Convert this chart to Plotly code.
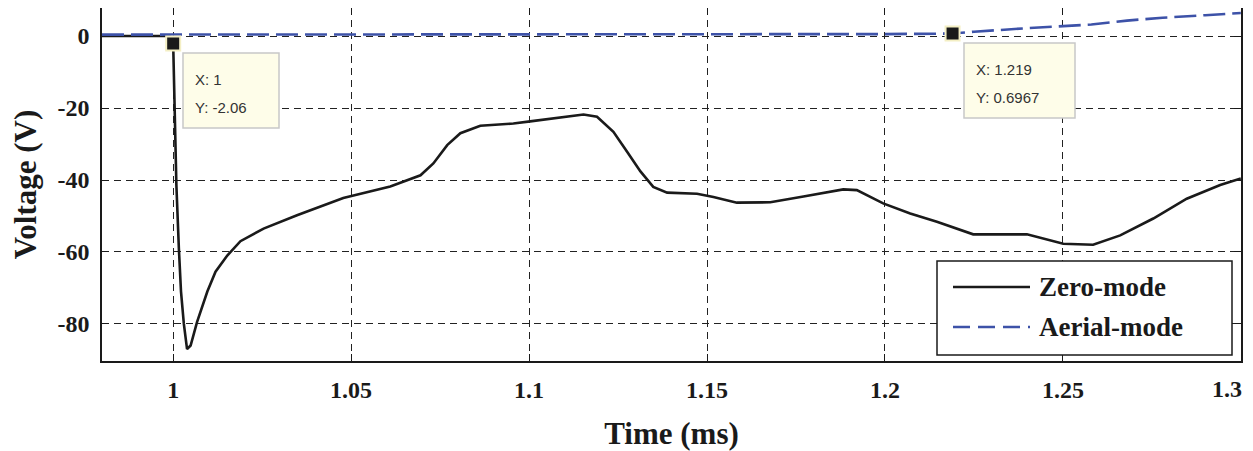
import plotly.graph_objects as go

# ---------------- data ----------------
zero_t = [0.98, 0.999, 1.0, 1.0002, 1.0009, 1.0016, 1.0022, 1.0030, 1.0039, 1.0049,
          1.0067, 1.0096, 1.0119, 1.0152, 1.0189, 1.0254, 1.0348, 1.0478, 1.0610,
          1.0695, 1.0731, 1.0770, 1.0807, 1.0863, 1.0956, 1.1003, 1.1068, 1.1153,
          1.1191, 1.1237, 1.1275, 1.1313, 1.1349, 1.1388, 1.1472, 1.1518, 1.1584,
          1.1678, 1.1771, 1.1883, 1.1921, 1.1995, 1.2071, 1.2146, 1.2248, 1.2399,
          1.2501, 1.2585, 1.2661, 1.2754, 1.2848, 1.2942, 1.3]
zero_v = [0, 0, -2.06, -11.7, -41.4, -59, -71, -80, -87, -86,
          -79.5, -71, -65.5, -61, -57, -53.5, -49.8, -45, -41.8,
          -38.7, -35.4, -30.3, -27, -24.9, -24.3, -23.7, -22.9, -21.8,
          -22.4, -26.6, -32.1, -37.6, -41.9, -43.5, -43.8, -44.7, -46.3,
          -46.2, -44.6, -42.6, -42.8, -46.5, -49.3, -51.6, -55.1, -55.1,
          -57.7, -58, -55.4, -50.7, -45.2, -41.4, -39.6]

aerial_t = [0.98, 1.0, 1.1, 1.2, 1.219, 1.225, 1.24, 1.258, 1.268, 1.278, 1.29, 1.3]
aerial_v = [0.4, 0.4, 0.45, 0.55, 0.6967, 1.2, 2.2, 3.2, 4.3, 5.1, 5.8, 6.4]

tip_x = [1.0, 1.219]
tip_y = [-2.06, 0.6967]
tip_text = [("X: 1", "Y: -2.06"), ("X: 1.219", "Y: 0.6967")]

x_ticks = [1, 1.05, 1.1, 1.15, 1.2, 1.25, 1.3]
x_ticktext = ["1", "1.05", "1.1", "1.15", "1.2", "1.25", "1.3"]
y_ticks = [0, -20, -40, -60, -80]
y_ticktext = ["0", "-20", "-40", "-60", "-80"]

series_names = ["Zero-mode", "Aerial-mode"]

# ---------------- layout constants ----------------
OFF = 8                      # page offset of the figure (browser body margin)
PAGE_W, PAGE_H = 1253, 451
W, H = PAGE_W - OFF, PAGE_H - OFF
PL, PR, PT, PB = 102, 1241, 8, 361   # plot area in page pixels
ML, MR, MT, MB = PL - OFF, W - (PR - OFF), PT - OFF, H - (PB - OFF)
XR = [0.98, 1.30005]
YR = [-90.3, 7.8]
SERIF = "Liberation Serif, Times New Roman, serif"
SANS = "Liberation Sans, Arial, sans-serif"
BLACK = "#1a1a1a"
BLUE = "#3d52a8"
TICK_FS = 24


def px2paper_x(px):
    return (px - PL) / (PR - PL)


def px2paper_y(py):
    return (PB - py) / (PB - PT)


def px2dx(px):
    return XR[0] + (px - PL) / (PR - PL) * (XR[1] - XR[0])


def px2dy(py):
    return YR[1] - (py - PT) / (PB - PT) * (YR[1] - YR[0])


fig = go.Figure()
fig.add_trace(go.Scatter(x=zero_t, y=zero_v, mode="lines", name=series_names[0],
                         line=dict(color=BLACK, width=2.6), showlegend=False))
fig.add_trace(go.Scatter(x=aerial_t, y=aerial_v, mode="lines", name=series_names[1],
                         line=dict(color=BLUE, width=2.6, dash="22px,7px"), showlegend=False))
fig.add_trace(go.Scatter(x=tip_x, y=tip_y, mode="markers", showlegend=False,
                         marker=dict(symbol="square", size=14, color=BLACK,
                                     line=dict(color="#f4efc4", width=2))))

shapes = []
annotations = []

# data tip boxes (page px)
tip_boxes = [  # (left, top, right, bottom)
    (183, 53, 279, 128),
    (964, 43, 1075, 118),
]
for (x0, y0, x1, y1), (l1, l2) in zip(tip_boxes, tip_text):
    shapes.append(dict(type="rect", xref="x", yref="y",
                       x0=px2dx(x0), x1=px2dx(x1), y0=px2dy(y1), y1=px2dy(y0),
                       fillcolor="#fefde9", line=dict(color="#c8c8c8", width=1.5),
                       layer="above"))
    annotations.append(dict(xref="x", yref="y", x=px2dx(x0 + 10), y=px2dy(y0 + 26),
                            text=l1, showarrow=False, xanchor="left", yanchor="middle",
                            font=dict(family=SANS, size=15, color="#333333")))
    annotations.append(dict(xref="x", yref="y", x=px2dx(x0 + 10), y=px2dy(y0 + 54),
                            text=l2, showarrow=False, xanchor="left", yanchor="middle",
                            font=dict(family=SANS, size=15, color="#333333")))

# legend (box, sample lines, labels)
shapes.append(dict(type="rect", xref="paper", yref="paper",
                   x0=px2paper_x(937), x1=px2paper_x(1232),
                   y0=px2paper_y(355), y1=px2paper_y(261),
                   fillcolor="white", line=dict(color=BLACK, width=1.5), layer="above"))
legend_rows = [(287, BLACK, "solid"), (327, BLUE, "17px,8px")]
for (py, col, dash), name in zip(legend_rows, series_names):
    shapes.append(dict(type="line", xref="paper", yref="paper",
                       x0=px2paper_x(953), x1=px2paper_x(1030),
                       y0=px2paper_y(py), y1=px2paper_y(py),
                       line=dict(color=col, width=2.6, dash=dash), layer="above"))
    annotations.append(dict(xref="paper", yref="paper", x=px2paper_x(1037),
                            y=px2paper_y(py), text="<b>%s</b>" % name, showarrow=False,
                            xanchor="left", yanchor="middle",
                            font=dict(family=SERIF, size=27, color=BLACK)))

# the last x tick label sits against the page edge (shifted inward, as in the original)
x_tick_labels = ["<b>%s</b>" % t for t in x_ticktext]
x_tick_labels[-1] = ""
annotations.append(dict(xref="paper", yref="paper", x=px2paper_x(1244),
                        y=px2paper_y(389), text="<b>%s</b>" % x_ticktext[-1],
                        showarrow=False, xanchor="right", yanchor="middle",
                        font=dict(family=SERIF, size=TICK_FS, color=BLACK)))

axis_common = dict(showline=True, linecolor=BLACK, linewidth=1.5, mirror="ticks",
                   ticks="inside", ticklen=7, tickcolor=BLACK, tickwidth=1.2,
                   showgrid=True, gridcolor="#222222", gridwidth=1, griddash="7px,5px",
                   zeroline=False, automargin=False,
                   tickfont=dict(family=SERIF, size=TICK_FS, color=BLACK))

fig.update_layout(
    width=W, height=H,
    margin=dict(l=ML, r=MR, t=MT, b=MB, pad=0),
    paper_bgcolor="white", plot_bgcolor="white",
    xaxis=dict(range=XR, tickvals=x_ticks, ticktext=x_tick_labels,
               ticklabelstandoff=6,
               title=dict(text="<b>Time (ms)</b>", standoff=24,
                          font=dict(family=SERIF, size=31, color=BLACK)),
               **axis_common),
    yaxis=dict(range=YR, tickvals=y_ticks,
               ticktext=["<b>%s</b>\u00a0" % t for t in y_ticktext],
               title=dict(text="<b>Voltage (V)</b>", standoff=28,
                          font=dict(family=SERIF, size=31, color=BLACK)),
               **axis_common),
    shapes=shapes,
    annotations=annotations,
)

fig.write_html("out.html")
